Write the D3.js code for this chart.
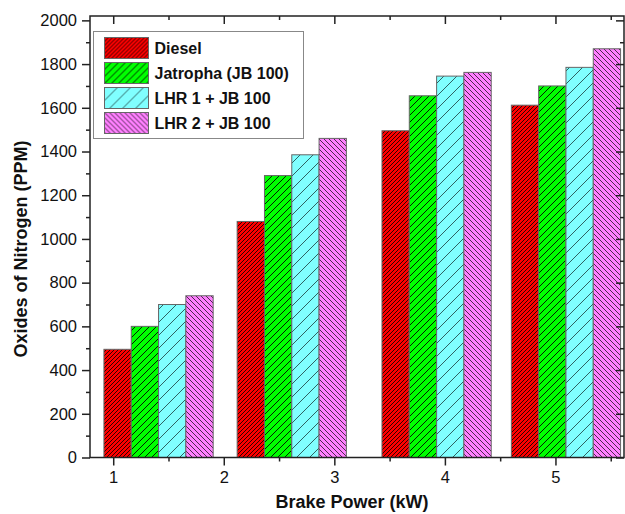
<!DOCTYPE html>
<html>
<head>
<meta charset="utf-8">
<script src="https://cdn.jsdelivr.net/npm/d3@7/dist/d3.min.js"></script>
<style>
  body { margin: 0; background: #fff; }
  svg { display: block; font-family: Arial, "Liberation Sans", sans-serif; }
</style>
</head>
<body>
<svg id="chart" width="625" height="514"></svg>
<script>
// NOx emissions against brake power for four fuel / engine configurations
const brakePower = [1.41, 2.615, 3.925, 5.095];
const seriesNames = ["Diesel", "Jatropha (JB 100)", "LHR 1 + JB 100", "LHR 2 + JB 100"];
const diesel   = [495, 1080, 1495, 1612];
const jatropha = [600, 1290, 1655, 1700];
const lhr1     = [700, 1385, 1745, 1785];
const lhr2     = [740, 1460, 1762, 1870];
const xTicks = [1, 2, 3, 4, 5];
const xMinorTicks = [1.5, 2.5, 3.5, 4.5, 5.5];
const yTicks = [0, 200, 400, 600, 800, 1000, 1200, 1400, 1600, 1800, 2000];
const yMinorTicks = [100, 300, 500, 700, 900, 1100, 1300, 1500, 1700, 1900];

const seriesValues = [diesel, jatropha, lhr1, lhr2];

// hatch styles per series: tile size (horizontal period), slant and ink
const fills     = ["#ff0000", "#00ff00", "#80ffff", "#ff80ff"];
const hatchTile = [4, 7, 13, 5];
const hatchUp   = [true, true, true, false]; // true = "/" , false = "\"
const hatchInk  = ["#1a0000", "#002000", "#2e6262", "#3a1f3a"];
const hatchW    = [0.9, 1, 1, 0.9];

const svg = d3.select("#chart");
const plotL = 90, plotR = 624, plotT = 16, plotB = 457.5;

const x = d3.scaleLinear().domain([0.79, 5.62]).range([plotL, plotR]);
const y = d3.scaleLinear().domain([0, 2020]).range([plotB, plotT]);
const barW = 0.247; // bar width in brake-power units

// hatch patterns
const defs = svg.append("defs");
seriesNames.forEach((name, i) => {
  const s = hatchTile[i];
  const p = defs.append("pattern")
    .attr("id", "hatch" + i)
    .attr("patternUnits", "userSpaceOnUse")
    .attr("width", s).attr("height", s);
  p.append("rect").attr("width", s).attr("height", s).attr("fill", fills[i]);
  const d = hatchUp[i]
    ? `M0,${s}L${s},0M-1,1L1,-1M${s - 1},${s + 1}L${s + 1},${s - 1}`
    : `M0,0L${s},${s}M-1,${s - 1}L1,${s + 1}M${s - 1},-1L${s + 1},1`;
  p.append("path").attr("d", d)
    .attr("stroke", hatchInk[i]).attr("stroke-width", hatchW[i]);
});

// bars
const rows = [];
brakePower.forEach((bp, gi) => {
  seriesValues.forEach((vals, si) => {
    rows.push({ bp, si, v: vals[gi] });
  });
});

const barLeft = d => d.bp - 2 * barW + d.si * barW;
svg.append("g").selectAll("rect")
  .data(rows)
  .join("rect")
  .attr("x", d => x(barLeft(d)))
  .attr("width", d => x(barLeft(d) + barW) - x(barLeft(d)))
  .attr("y", d => y(d.v))
  .attr("height", d => y(0) - y(d.v))
  .attr("fill", d => `url(#hatch${d.si})`)
  .attr("stroke", "#666")
  .attr("stroke-width", 1);

// axes
const axisColor = "#222";
function styleAxis(g) {
  g.select(".domain").remove();
  g.selectAll(".tick line").attr("stroke", axisColor).attr("stroke-width", 1.5);
  g.selectAll(".tick text").attr("fill", "#111").attr("font-size", 16.5);
}

svg.append("g").attr("transform", `translate(0,${plotB})`)
  .call(d3.axisBottom(x).tickValues(xTicks).tickSize(8).tickPadding(6).tickFormat(d3.format("d")))
  .call(styleAxis);
svg.append("g").attr("transform", `translate(0,${plotB})`)
  .call(d3.axisBottom(x).tickValues(xMinorTicks).tickSize(4).tickFormat(""))
  .call(styleAxis);
svg.append("g").attr("transform", `translate(0,${plotT})`)
  .call(d3.axisTop(x).tickValues(xTicks).tickSize(-8).tickFormat(""))
  .call(styleAxis);
svg.append("g").attr("transform", `translate(0,${plotT})`)
  .call(d3.axisTop(x).tickValues(xMinorTicks).tickSize(-4).tickFormat(""))
  .call(styleAxis);

svg.append("g").attr("transform", `translate(${plotL},0)`)
  .call(d3.axisLeft(y).tickValues(yTicks).tickSize(8).tickPadding(5).tickFormat(d3.format("d")))
  .call(styleAxis);
svg.append("g").attr("transform", `translate(${plotL},0)`)
  .call(d3.axisLeft(y).tickValues(yMinorTicks).tickSize(4).tickFormat(""))
  .call(styleAxis);
svg.append("g").attr("transform", `translate(${plotR},0)`)
  .call(d3.axisRight(y).tickValues(yTicks).tickSize(-8).tickFormat(""))
  .call(styleAxis);
svg.append("g").attr("transform", `translate(${plotR},0)`)
  .call(d3.axisRight(y).tickValues(yMinorTicks).tickSize(-4).tickFormat(""))
  .call(styleAxis);

// frame
svg.append("rect")
  .attr("x", plotL).attr("y", plotT)
  .attr("width", plotR - plotL).attr("height", plotB - plotT)
  .attr("fill", "none").attr("stroke", axisColor).attr("stroke-width", 1.5);

// axis titles
svg.append("text")
  .attr("x", (plotL + plotR) / 2 - 5).attr("y", 508)
  .attr("text-anchor", "middle")
  .attr("font-size", 18).attr("font-weight", "bold").attr("fill", "#111")
  .text("Brake Power (kW)");

svg.append("text")
  .attr("transform", `translate(27,249) rotate(-90)`)
  .attr("text-anchor", "middle")
  .attr("font-size", 18).attr("font-weight", "bold").attr("fill", "#111")
  .text("Oxides of Nitrogen (PPM)");

// legend
const legend = svg.append("g").attr("transform", "translate(93.5,31.5)");
legend.append("rect")
  .attr("width", 210).attr("height", 107)
  .attr("fill", "#fff").attr("stroke", "#888").attr("stroke-width", 1);
const item = legend.selectAll("g.item")
  .data(seriesNames)
  .join("g").attr("class", "item")
  .attr("transform", (d, i) => `translate(11,${6 + i * 25})`);
item.append("rect")
  .attr("width", 44).attr("height", 21)
  .attr("fill", (d, i) => `url(#hatch${i})`)
  .attr("stroke", "#666").attr("stroke-width", 1);
item.append("text")
  .attr("x", 50).attr("y", 16.5)
  .attr("font-size", 16).attr("font-weight", "bold").attr("fill", "#111")
  .text(d => d);
</script>
</body>
</html>
